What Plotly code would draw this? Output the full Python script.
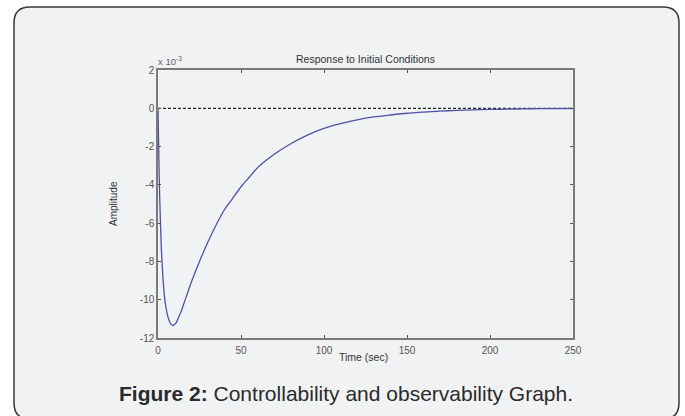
import plotly.graph_objects as go

# Data (amplitude in units of 1e-3)
time_s = [0, 0.5, 1, 2, 3, 4, 5, 6, 7, 8, 9, 10, 11, 12, 14, 16, 18, 20, 25, 30,
          35, 40, 45, 50, 55, 60, 70, 80, 90, 100, 110, 120, 130, 140, 150, 160,
          170, 180, 190, 200, 210, 220, 230, 240, 250]
amplitude = [0, -2.5, -4.6, -7.3, -8.9, -9.9, -10.5, -10.9, -11.15, -11.3, -11.35,
             -11.3, -11.2, -11.0, -10.6, -10.1, -9.6, -9.1, -8.0, -7.0, -6.1, -5.3,
             -4.7, -4.1, -3.6, -3.1, -2.4, -1.85, -1.4, -1.05, -0.8, -0.6, -0.45,
             -0.35, -0.26, -0.2, -0.15, -0.11, -0.08, -0.06, -0.045, -0.03, -0.02,
             -0.015, -0.01]
ref_t = [0, 250]
ref_y = [0, 0]
x_ticks = [0, 50, 100, 150, 200, 250]
y_ticks = [2, 0, -2, -4, -6, -8, -10, -12]
y_tick_labels = ["2", "0", "-2", "-4", "-6", "-8", "-10", "-12"]

W, H = 685, 416
L, R, T, B = 158, 573, 70, 338
pw, ph = R - L, B - T

def px(x):
    return (x - L) / pw

def py(y):
    return (B - y) / ph

fig = go.Figure()
fig.add_trace(go.Scatter(x=ref_t, y=ref_y, mode="lines",
                         line=dict(color="#222222", width=1.2, dash="3px,2px"),
                         hoverinfo="skip", showlegend=False))
fig.add_trace(go.Scatter(x=time_s, y=amplitude, mode="lines",
                         line=dict(color="#5050a8", width=1.3, shape="spline", smoothing=0.6),
                         showlegend=False))

# rounded frame
x0, x1, y0, y1 = 14, 679, 7, 419
r = 16
path = (f"M {px(x0+r)},{py(y0)} L {px(x1-r)},{py(y0)} "
        f"Q {px(x1)},{py(y0)} {px(x1)},{py(y0+r)} "
        f"L {px(x1)},{py(y1-r)} Q {px(x1)},{py(y1)} {px(x1-r)},{py(y1)} "
        f"L {px(x0+r)},{py(y1)} Q {px(x0)},{py(y1)} {px(x0)},{py(y1-r)} "
        f"L {px(x0)},{py(y0+r)} Q {px(x0)},{py(y0)} {px(x0+r)},{py(y0)} Z")
fig.add_shape(type="path", path=path, xref="paper", yref="paper",
              line=dict(color="#3a3a3a", width=1.5), fillcolor="#f1f2f4", layer="below")

axis_common = dict(showgrid=False, zeroline=False, showline=True, linecolor="#7a7a7a",
                   linewidth=1.5, mirror="ticks", ticks="inside", ticklen=3,
                   tickcolor="#555555", tickfont=dict(family="Liberation Sans, Arial", size=10, color="#555555"))

def note(text, x, y, size, color="#444444", xanchor="center", angle=0):
    return dict(text=text, x=px(x), y=py(y), xref="paper", yref="paper",
                xanchor=xanchor, yanchor="middle", textangle=angle, showarrow=False,
                font=dict(family="Liberation Sans, Arial", size=size, color=color))

fig.update_layout(
    width=W, height=H,
    margin=dict(l=L, r=W - R, t=T, b=H - B, autoexpand=False),
    paper_bgcolor="white", plot_bgcolor="#f1f2f4",
    xaxis=dict(range=[0, 250], tickvals=x_ticks, ticklabelstandoff=2, **axis_common),
    yaxis=dict(range=[-12, 2], tickvals=y_ticks, ticktext=y_tick_labels, **axis_common),
    annotations=[
        note("Response to Initial Conditions", 365.5, 59, 10.5, color="#333333"),
        note("x 10<sup>-3</sup>", 156, 61, 9.5, color="#666666", xanchor="left"),
        note("Amplitude", 113, 204, 10, color="#333333", angle=-90),
        note("Time (sec)", 363, 357, 10.5, color="#333333"),
        note("<b>Figure 2:</b> Controllability and observability Graph.", 346, 393, 21,
             color="#2a2a2a"),
    ],
)

fig.write_html("out.html", config={"displayModeBar": False},
               post_script="document.body.style.margin='0';document.body.style.overflow='hidden';")
